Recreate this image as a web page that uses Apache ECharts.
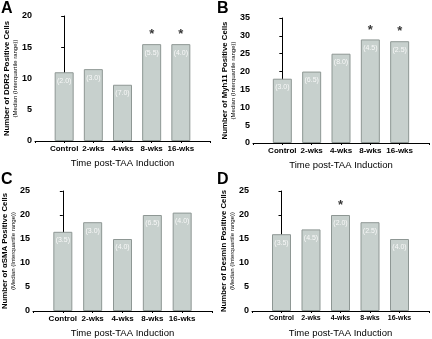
<!DOCTYPE html>
<html>
<head>
<meta charset="utf-8">
<script src="https://cdn.jsdelivr.net/npm/echarts@6/dist/echarts.min.js"></script>
<style>
  html, body { margin: 0; padding: 0; background: #fff; }
  #chart { width: 432px; height: 339px; }
</style>
</head>
<body>
<div id="chart"></div>
<script>
// categories shared by all four panels
var categories = ['Control', '2-wks', '4-wks', '8-wks', '16-wks']

// A - DDR2
var ddr2 = [11, 11.5, 9, 15.5, 15.5]
var ddr2Iqr = ['2.0', '3.0', '7.0', '5.5', '4.0']
var ddr2Star = [0, 0, 0, 1, 1]
// B - Myh11
var myh11 = [18, 20, 25, 29, 28.5]
var myh11Iqr = ['3.0', '6.5', '8.0', '4.5', '2.5']
var myh11Star = [0, 0, 0, 1, 1]
// C - aSMA
var asma = [16.5, 18.5, 15, 20, 20.5]
var asmaIqr = ['3.5', '3.0', '4.0', '6.5', '4.0']
var asmaStar = [0, 0, 0, 0, 0]
// D - Desmin
var desmin = [16, 17, 20, 18.5, 15]
var desminIqr = ['3.5', '4.5', '2.0', '2.5', '4.0']
var desminStar = [0, 0, 1, 0, 0]

var yMax = [20, 35, 25, 25]
var yTitles = ['Number of DDR2 Positive Cells', 'Number of Myh11 Positive Cells',
  'Number of \u03b1SMA Positive Cells', 'Number of Desmin Positive Cells']
var letters = ['A', 'B', 'C', 'D']

var panels = [
  { values: ddr2, iqr: ddr2Iqr, star: ddr2Star },
  { values: myh11, iqr: myh11Iqr, star: myh11Star },
  { values: asma, iqr: asmaIqr, star: asmaStar },
  { values: desmin, iqr: desminIqr, star: desminStar }
]

var FONT = '"Liberation Sans", Arial, sans-serif'

var grids = [
  { left: 35, top: 16, width: 175, height: 125 },
  { left: 253, top: 18, width: 176, height: 125 },
  { left: 33, top: 191, width: 179, height: 125 },
  { left: 252, top: 191, width: 178, height: 125 }
]

var xAxes = []
var yAxes = []
var series = []
panels.forEach(function(p, k) {
  var small = k === 3
  xAxes.push({
    type: 'value',
    gridIndex: k,
    min: -1,
    max: 5,
    interval: 1,
    splitLine: { show: false },
    axisLine: { lineStyle: { color: '#000', width: 1 } },
    axisTick: { show: true, length: 2, lineStyle: { color: '#000' } },
    axisLabel: {
      formatter: function(v) { return categories[v] || '' },
      fontFamily: FONT,
      fontWeight: 'bold',
      fontSize: small ? 7 : 8,
      color: '#000',
      margin: 4,
      showMinLabel: true,
      showMaxLabel: true
    },
    name: 'Time post-TAA Induction',
    nameLocation: 'middle',
    nameGap: 17,
    nameTextStyle: { fontFamily: FONT, fontSize: 9.5, color: '#000' }
  })
  yAxes.push({
    type: 'value',
    gridIndex: k,
    min: 0,
    max: yMax[k],
    interval: 5,
    splitLine: { show: false },
    axisLine: { show: true, lineStyle: { color: '#000', width: 1 } },
    axisTick: { show: true, length: 3, lineStyle: { color: '#000' } },
    axisLabel: {
      fontFamily: FONT, fontWeight: 'bold', fontSize: 9, color: '#000', margin: 3
    },
    name: '{a|' + yTitles[k] + '}\n{b|(Median (Interquartile range))}',
    nameLocation: 'middle',
    nameRotate: 90,
    nameGap: 15,
    nameTextStyle: {
      fontFamily: FONT,
      rich: {
        a: { fontSize: 7.8, fontWeight: 'bold', color: '#000', fontFamily: FONT, lineHeight: 9 },
        b: { fontSize: 6, color: '#000', fontFamily: FONT, lineHeight: 7 }
      }
    }
  })
  series.push({
    type: 'bar',
    xAxisIndex: k,
    yAxisIndex: k,
    barWidth: 19,
    data: p.values.map(function(v, i) { return [i, v] }),
    itemStyle: { color: '#c7d0cd', borderColor: '#8e9794', borderWidth: 1 },
    label: {
      show: true,
      position: 'insideTop',
      distance: 5,
      fontFamily: FONT,
      fontSize: 7,
      color: '#f8f8f8',
      formatter: function(params) { return '(' + p.iqr[params.dataIndex] + ')' }
    },
    silent: true
  })
  series.push({
    type: 'scatter',
    xAxisIndex: k,
    yAxisIndex: k,
    symbolSize: 2,
    itemStyle: { color: 'rgba(0,0,0,0)' },
    data: p.values.map(function(v, i) { return p.star[i] ? [i, v] : null }).filter(function(d) { return d }),
    label: {
      show: true,
      position: 'top',
      distance: 2,
      formatter: '*',
      fontFamily: FONT,
      fontWeight: 'bold',
      fontSize: 13,
      color: '#000'
    },
    silent: true,
    z: 5
  })
})

var chart = echarts.init(document.getElementById('chart'), null, { renderer: 'canvas' })
chart.setOption({
  animation: false,
  backgroundColor: '#fff',
  graphic: letters.map(function(l, k) {
    return {
      type: 'text',
      left: k % 2 ? 217 : 1,
      top: k < 2 ? 1 : 172,
      style: { text: l, fontFamily: FONT, fontWeight: 'bold', fontSize: 16, fill: '#000' }
    }
  }),
  grid: grids,
  xAxis: xAxes,
  yAxis: yAxes,
  series: series
})
</script>
</body>
</html>
